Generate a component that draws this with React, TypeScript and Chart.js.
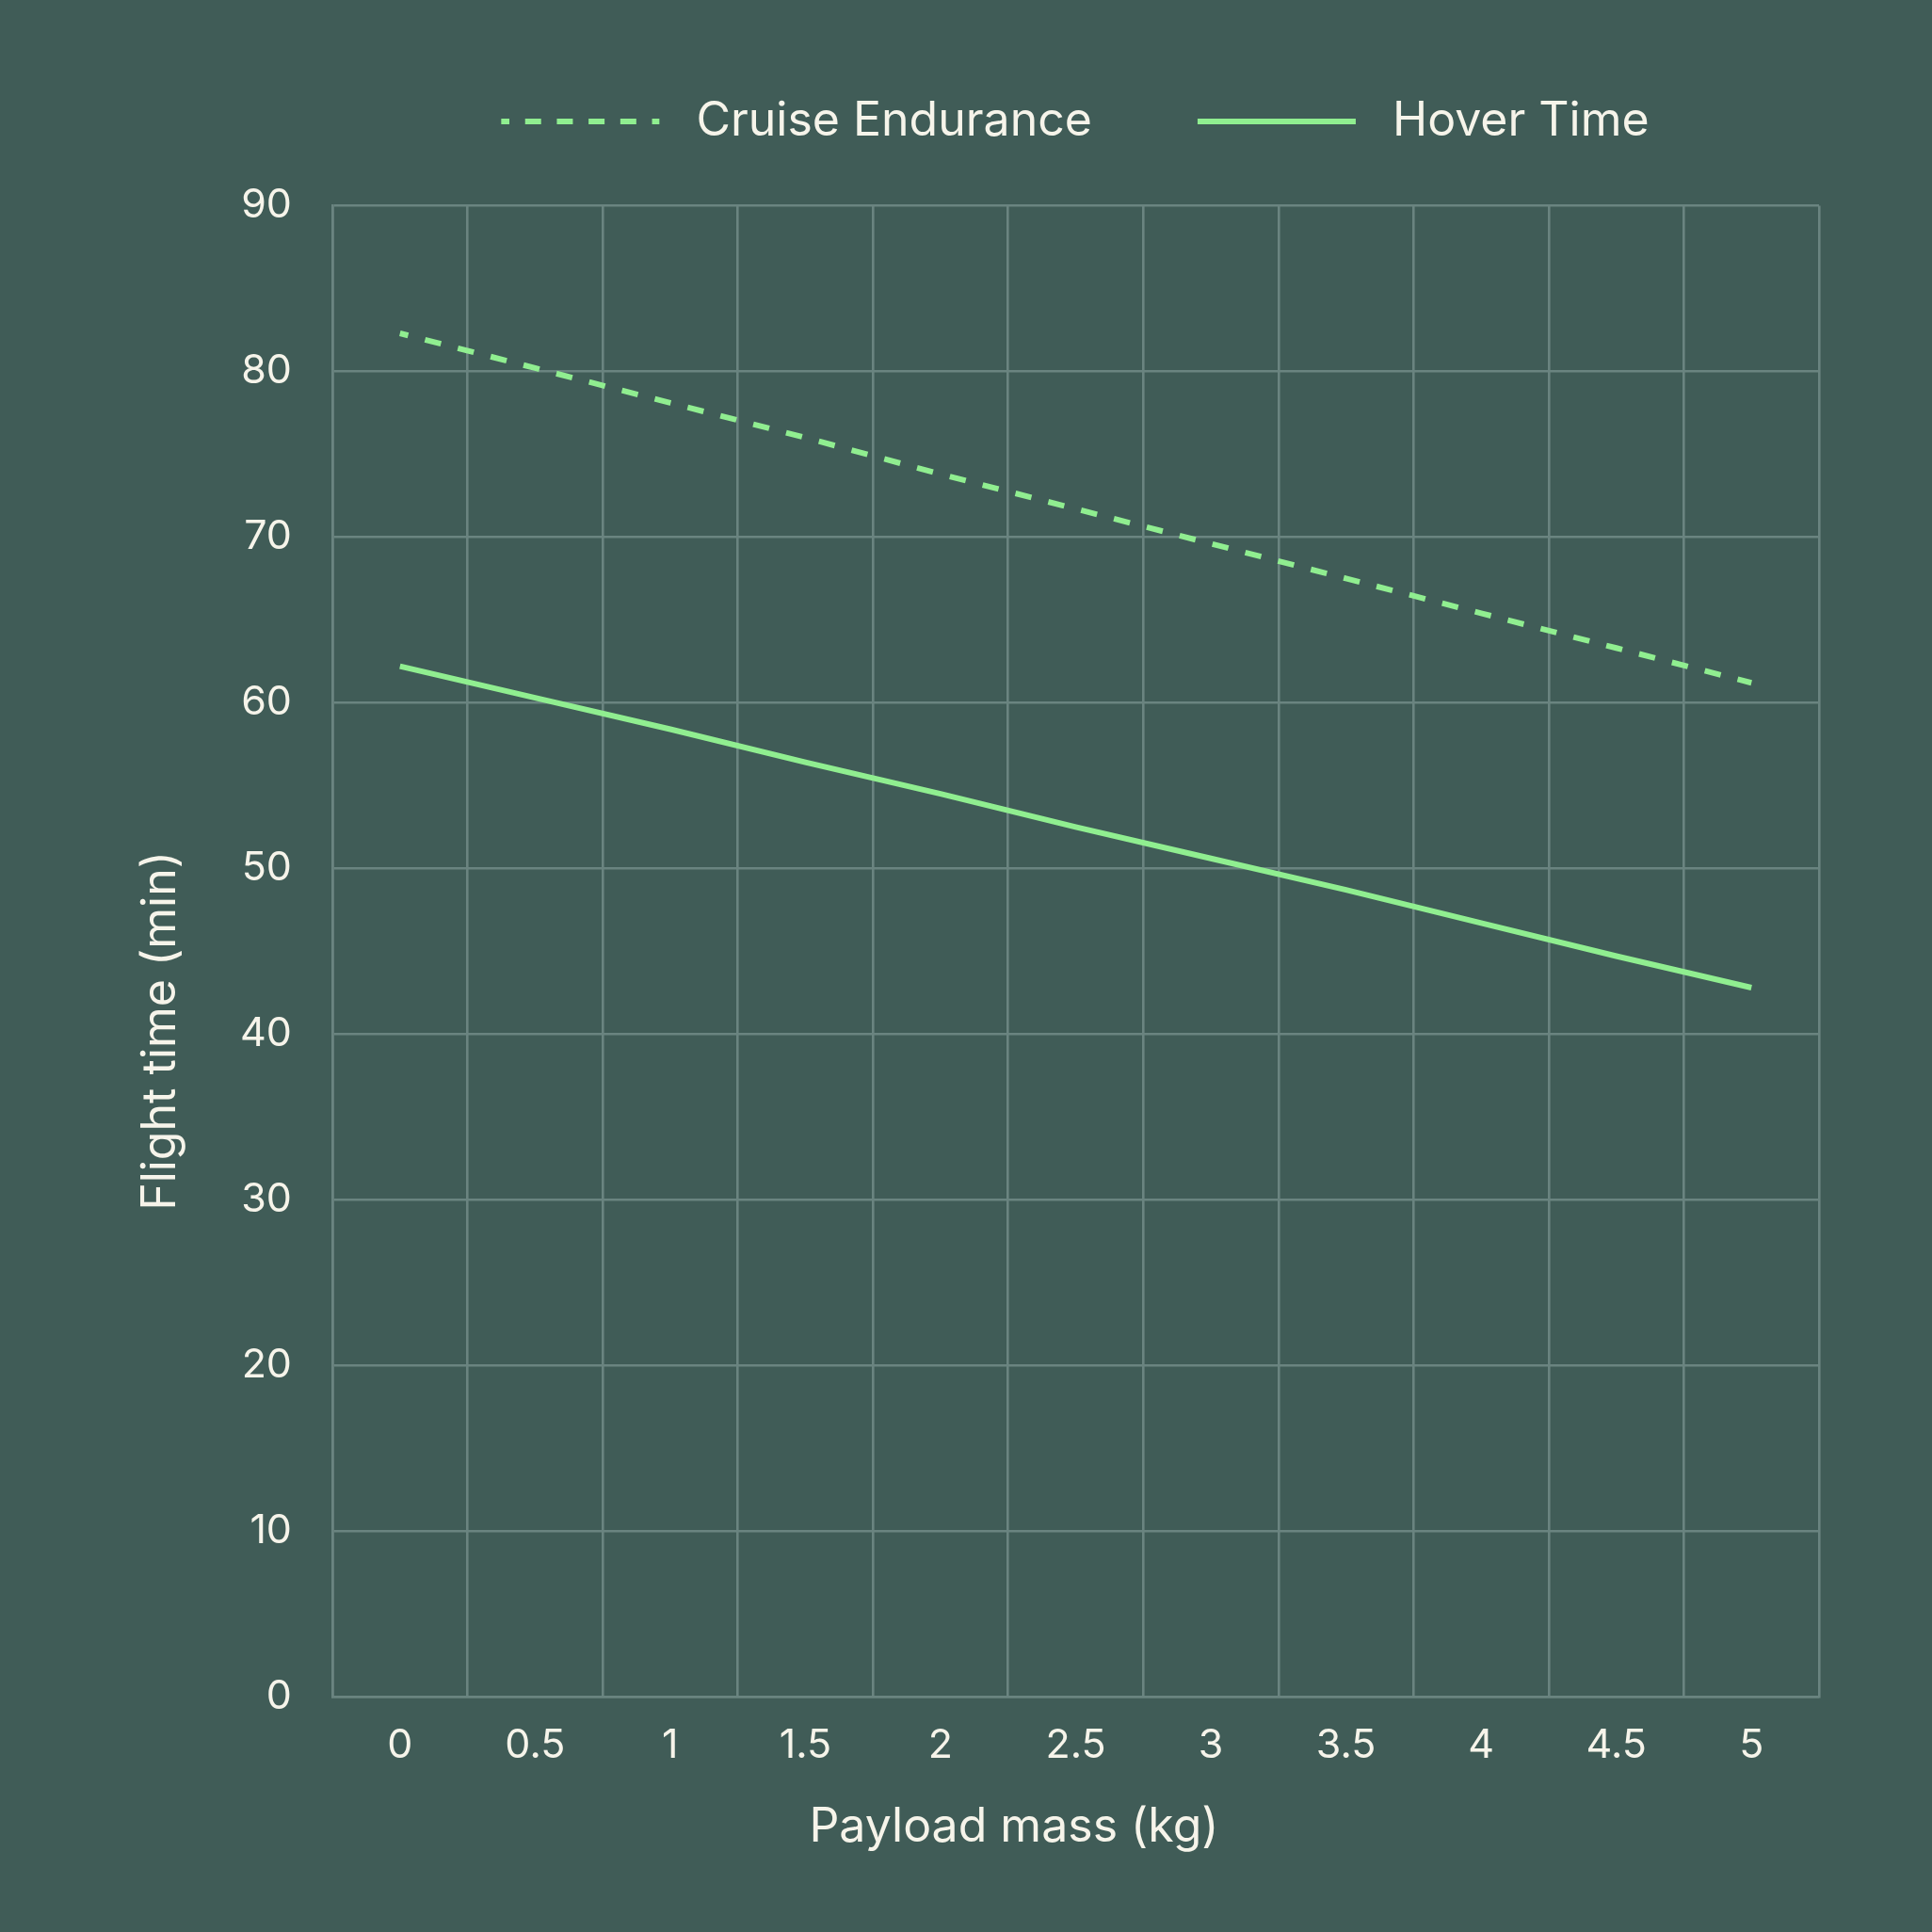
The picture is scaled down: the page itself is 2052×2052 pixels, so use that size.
import React, { useEffect, useRef } from 'react';
import { Chart, registerables } from 'chart.js';

Chart.register(...registerables);

const payloadMassLabels = ['0', '0.5', '1', '1.5', '2', '2.5', '3', '3.5', '4', '4.5', '5'];
const cruiseEndurance = [82.3, 80.2, 78.1, 76.0, 73.8, 71.7, 69.6, 67.5, 65.4, 63.3, 61.2];
const hoverTime = [62.2, 60.3, 58.4, 56.4, 54.5, 52.5, 50.6, 48.7, 46.7, 44.7, 42.8];
const seriesNames = ['Cruise Endurance', 'Hover Time'];
const xAxisTitle = 'Payload mass (kg)';
const yAxisTitle = 'Flight time (min)';
const yMin = 0;
const yMax = 90;
const yStep = 10;

const BG = '#405c57';
const GRID = '#6a8480';
const LINE = '#90ee90';
const TEXT = '#f6f4ea';
const FONT = 'Inter';
const SIZE = 2052;
const LINE_W = 6;
const DASH = [17.5, 18.5];
const LEGEND_DASH = [17, 16.7];

const bgPlugin = {
  id: 'bgFill',
  beforeDraw(chart: any) {
    const { ctx, width, height } = chart;
    ctx.save();
    ctx.fillStyle = BG;
    ctx.fillRect(0, 0, width, height);
    ctx.restore();
  },
};

const legendPlacePlugin = {
  id: 'legendPlace',
  afterInit(chart: any) {
    const lg = chart.legend;
    if (!lg) return;
    const orig = lg.fit.bind(lg);
    lg.fit = function () {
      orig();
      this.height = 226.5;
    };
  },
  afterLayout(chart: any) {
    const lg = chart.legend;
    if (!lg) return;
    // center the legend over the plot area
    lg.left = chart.chartArea.left - 1;
    lg.width = lg.right - lg.left;
  },
};

const axisTitlePlugin = {
  id: 'axisTitles',
  afterDraw(chart: any) {
    const { ctx, chartArea: a } = chart;
    ctx.save();
    ctx.fillStyle = TEXT;
    ctx.font = `50px ${FONT}`;
    ctx.textAlign = 'center';
    ctx.textBaseline = 'middle';
    ctx.fillText(xAxisTitle, a.left + (a.right - a.left) * 0.4585, a.bottom + 139);
    ctx.translate(a.left - 182, a.top + (a.bottom - a.top) * 0.5535);
    ctx.rotate(-Math.PI / 2);
    ctx.fillText(yAxisTitle, 0, 0);
    ctx.restore();
  },
};

export default function App() {
  const ref = useRef<HTMLCanvasElement>(null);

  useEffect(() => {
    document.body.style.margin = '0';
    document.body.style.background = BG;
    let chart: Chart | null = null;
    let cancelled = false;

    const make = () => {
      if (cancelled || !ref.current) return;
      chart = new Chart(ref.current, {
        type: 'line',
        data: {
          labels: payloadMassLabels,
          datasets: [
            {
              label: seriesNames[0],
              data: cruiseEndurance,
              borderColor: LINE,
              backgroundColor: LINE,
              borderWidth: LINE_W,
              borderDash: DASH,
              borderDashOffset: 8.5,
              pointRadius: 0,
              pointHoverRadius: 0,
              tension: 0,
              fill: false,
            },
            {
              label: seriesNames[1],
              data: hoverTime,
              borderColor: LINE,
              backgroundColor: LINE,
              borderWidth: LINE_W,
              pointRadius: 0,
              pointHoverRadius: 0,
              tension: 0,
              fill: false,
            },
          ],
        },
        options: {
          responsive: false,
          animation: false,
          devicePixelRatio: 1,
          layout: { padding: { left: 0, right: 120, top: -8, bottom: 0 } },
          plugins: {
            legend: {
              display: true,
              position: 'top',
              labels: {
                usePointStyle: true,
                pointStyle: 'line',
                pointStyleWidth: 168,
                boxHeight: 6,
                padding: 112,
                color: TEXT,
                font: { family: FONT, size: 50 },
                generateLabels: (c: any) =>
                  (Chart.defaults.plugins.legend.labels as any)
                    .generateLabels(c)
                    .map((it: any) => {
                      const ds: any = c.data.datasets[it.datasetIndex];
                      return {
                        ...it,
                        text: ' ' + it.text,
                        strokeStyle: ds.borderColor,
                        fillStyle: ds.borderColor,
                        lineWidth: ds.borderWidth,
                        lineDash: ds.borderDash ? LEGEND_DASH : [],
                        lineDashOffset: ds.borderDash ? 8.3 : 0,
                        pointStyle: 'line',
                      };
                    }),
              },
            },
            tooltip: { enabled: false },
            title: { display: false },
          },
          scales: {
            x: {
              type: 'category',
              offset: true,
              grid: { offset: true, color: GRID, lineWidth: 2.6, drawTicks: false },
              border: { color: GRID, width: 2.6 },
              ticks: {
                color: TEXT,
                font: { family: FONT, size: 43 },
                padding: 26,
                maxRotation: 0,
                autoSkip: false,
              },
              afterFit: (s: any) => {
                s.height = 250;
              },
            },
            y: {
              type: 'linear',
              min: yMin,
              max: yMax,
              grid: { color: GRID, lineWidth: 2.6, drawTicks: false },
              border: { color: GRID, width: 2.6 },
              ticks: {
                stepSize: yStep,
                color: TEXT,
                font: { family: FONT, size: 43 },
                padding: 43,
              },
              afterFit: (s: any) => {
                s.width = 353;
              },
            },
          },
        } as any,
        plugins: [bgPlugin, legendPlacePlugin, axisTitlePlugin],
      });
    };

    const fonts: any = (document as any).fonts;
    if (fonts && fonts.load) {
      Promise.all([fonts.load(`43px ${FONT}`), fonts.load(`50px ${FONT}`)]).then(make, make);
    } else {
      make();
    }

    return () => {
      cancelled = true;
      if (chart) chart.destroy();
    };
  }, []);

  return (
    <div style={{ width: SIZE, height: SIZE, background: BG }}>
      <canvas
        ref={ref}
        width={SIZE}
        height={SIZE}
        style={{ display: 'block', width: SIZE, height: SIZE }}
      />
    </div>
  );
}
